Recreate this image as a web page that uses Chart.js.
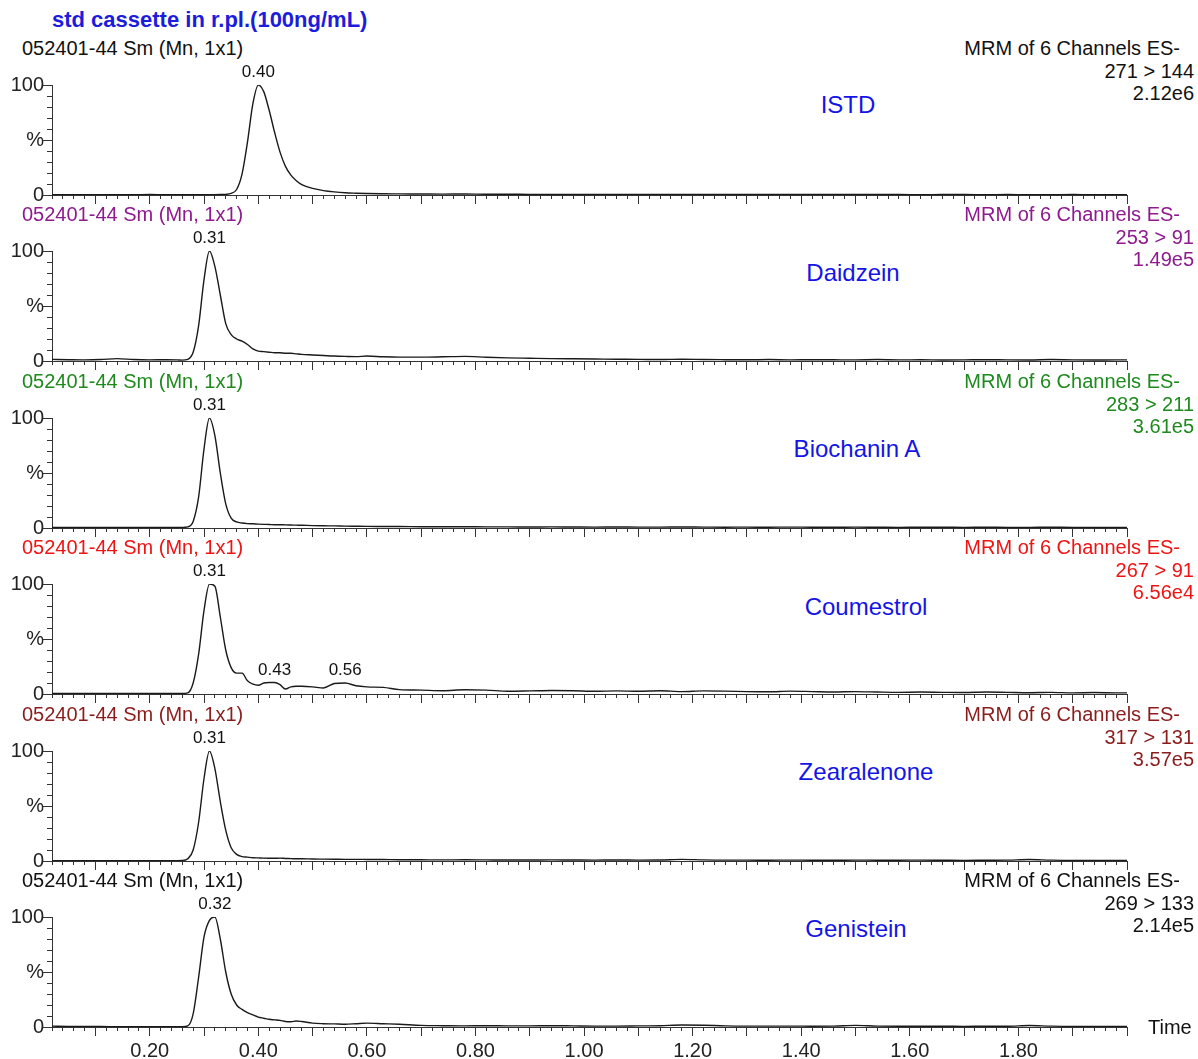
<!DOCTYPE html>
<html lang="en">
<head>
  <meta charset="UTF-8" />
  <title>std cassette in r.pl.(100ng/mL)</title>
  <script src="https://cdn.jsdelivr.net/npm/chart.js"></script>
  <style>
    body {
      margin: 0;
      background: #fff;
      font-family: Arial, "Liberation Sans", sans-serif;
      overflow: hidden;
    }
    #page {
      position: relative;
      width: 1198px;
      height: 1059px;
    }
    .txt {
      position: absolute;
      white-space: nowrap;
      line-height: 1;
    }
  </style>
</head>
<body>
  <div id="page"></div>

  <script>
    // retention time grid (min), denser around the peaks
    const TIME = [0.02, 0.05, 0.08, 0.11, 0.14, 0.17, 0.20, 0.23, 0.25,
      0.26, 0.27, 0.28, 0.29, 0.30, 0.31, 0.32, 0.33, 0.34, 0.35,
      0.36, 0.37, 0.38, 0.39, 0.40, 0.41, 0.42, 0.43, 0.44, 0.45, 0.46, 0.47, 0.48,
      0.50, 0.52, 0.54, 0.56, 0.58, 0.60, 0.63, 0.66,
      0.70, 0.74, 0.78, 0.82, 0.86, 0.90, 0.94, 0.98, 1.02, 1.06, 1.10, 1.14, 1.18, 1.22,
      1.26, 1.30, 1.34, 1.38, 1.42, 1.46, 1.50, 1.54, 1.58, 1.62, 1.66, 1.70, 1.74, 1.78,
      1.82, 1.86, 1.90, 1.94, 1.98, 2.00];

    // relative intensity (%) per channel
    const ISTD = [0.3, 0.3, 0.3, 0.3, 0.3, 0.3, 0.4, 0.3, 0.3,
      0.3, 0.3, 0.3, 0.3, 0.3, 0.3, 0.3, 0.4, 0.6, 1.5,
      5, 19, 48, 83, 100, 94, 77, 57, 39, 26, 18, 13, 9.5,
      6, 4, 2.8, 2.0, 1.6, 1.3, 1.1, 1.0,
      0.9, 0.8, 0.9, 0.7, 0.7, 0.6, 0.6, 0.5, 0.6, 0.5, 0.5, 0.4, 0.5, 0.5, 0.4, 0.4, 0.5,
      0.4, 0.4, 0.4, 0.5, 0.4, 0.4, 0.3, 0.4, 0.4, 0.3, 0.4, 0.3, 0.3, 0.4, 0.3, 0.3, 0.3];
    const DAIDZEIN = [1.5, 1.2, 1.0, 1.3, 2.2, 1.3, 1.0, 1.2, 1.0,
      0.8, 1.5, 8, 32, 74, 100, 86, 60, 34, 24,
      20, 18, 15, 11, 9, 8.5, 8, 7.5, 7.5, 7, 7, 6.5, 6,
      5.5, 5, 4.5, 4.2, 4, 4.5, 3.8, 3.5,
      3.5, 3.8, 4.2, 3.4, 2.8, 2.5, 2.2, 2.0, 1.8, 1.6, 1.5, 1.3, 1.6, 1.3, 1.2, 1.1, 1.3,
      1.0, 1.2, 1.1, 1.0, 1.3, 1.0, 1.1, 0.9, 1.0, 1.2, 1.0, 0.9, 1.3, 1.0, 0.9, 1.0, 1.0];
    const BIOCHANIN_A = [0.5, 0.5, 0.4, 0.5, 0.5, 0.4, 0.5, 0.5, 0.4,
      0.5, 1, 6, 28, 72, 100, 84, 50, 22, 9,
      5.5, 4.5, 4, 3.8, 3.5, 3.3, 3.2, 3, 3, 2.8, 2.7, 2.6, 2.5,
      2.2, 2, 1.9, 1.7, 1.6, 1.5, 1.4, 1.3,
      1.2, 1.1, 1.2, 1.0, 1.0, 0.9, 1.0, 0.9, 0.8, 0.9, 0.8, 0.8, 0.9, 0.8, 0.7, 0.8, 0.7,
      0.8, 0.7, 0.7, 0.8, 0.7, 0.6, 0.7, 0.7, 0.6, 0.7, 0.6, 0.6, 0.7, 0.6, 0.6, 0.6, 0.6];
    const COUMESTROL = [0.6, 0.5, 0.5, 0.6, 0.5, 0.5, 0.6, 0.5, 0.5,
      0.5, 1, 10, 36, 76, 100, 98, 70, 40, 24,
      19, 19, 12, 9, 8, 10, 10.5, 10.5, 8.5, 4.5, 6.5, 7, 7,
      6.5, 5.5, 9.5, 10, 7.5, 6.5, 6, 4,
      3.5, 3, 3.8, 3.5, 2.5, 2.8, 3.2, 3, 2.5, 2.8, 2.5, 3, 2.2, 2.8, 2.6, 2.2, 2,
      2.6, 2.2, 1.8, 2.2, 1.8, 1.5, 1.8, 1.5, 1.3, 1.8, 1.5, 1.2, 1.5, 1.0, 1.3, 1.0, 1.0];
    const ZEARALENONE = [0.3, 0.3, 0.3, 0.3, 0.3, 0.3, 0.3, 0.3, 0.3,
      0.4, 2, 10, 35, 75, 100, 84, 54, 28, 12,
      6, 4, 3.5, 3, 2.8, 2.6, 2.5, 2.5, 2.6, 2.3, 2.2, 2, 2,
      1.8, 1.7, 1.6, 1.5, 1.5, 1.4, 1.3, 1.2,
      1.1, 1.0, 1.1, 1.0, 0.9, 0.9, 1.0, 0.9, 0.8, 0.9, 0.8, 0.9, 1.5, 1.0, 0.8, 0.8, 0.7,
      0.8, 0.7, 0.7, 0.8, 0.7, 0.7, 0.8, 0.7, 0.6, 0.7, 0.8, 1.3, 0.8, 0.6, 0.6, 0.6, 0.6];
    const GENISTEIN = [0.8, 0.5, 0.4, 0.4, 0.3, 0.3, 0.3, 0.3, 0.3,
      0.3, 1, 12, 45, 82, 97, 100, 80, 50, 30,
      20, 16, 13, 11, 9, 8, 7, 6.5, 6, 5, 4.8, 5.5, 5,
      3.5, 3, 2.8, 2.5, 3, 3.5, 3, 2.5,
      1.5, 1.2, 1.0, 1.2, 1.0, 1.0, 1.2, 1.0, 0.8, 0.8, 1.0, 1.2, 1.8, 1.6, 1.0, 0.8, 0.8,
      0.8, 0.7, 0.8, 1.5, 0.8, 0.7, 0.7, 0.7, 0.6, 0.7, 0.7, 1.3, 0.8, 0.6, 0.6, 0.6, 0.6];

    const SERIES = [ISTD, DAIDZEIN, BIOCHANIN_A, COUMESTROL, ZEARALENONE, GENISTEIN];
    const COMPOUNDS = ["ISTD", "Daidzein", "Biochanin A", "Coumestrol", "Zearalenone", "Genistein"];
    const TRANSITIONS = ["271 > 144", "253 > 91", "283 > 211", "267 > 91", "317 > 131", "269 > 133"];
    const INTENSITIES = ["2.12e6", "1.49e5", "3.61e5", "6.56e4", "3.57e5", "2.14e5"];
    const PEAK_TIMES = [[0.40], [0.31], [0.31], [0.31, 0.43, 0.56], [0.31], [0.32]];
    const X_LABELS = [0.20, 0.40, 0.60, 0.80, 1.00, 1.20, 1.40, 1.60, 1.80];
    const Y_TICKS = [0, 10, 20, 30, 40, 50, 60, 70, 80, 90, 100];

    // styling / layout
    const HEADER_COLORS = ["#111111", "#8e1a8e", "#1e8a1e", "#ee1414", "#8b1c1c", "#111111"];
    const NAME_POS = [[848, 105], [853, 273], [857, 449], [866, 607], [866, 772], [856, 929]];
    const FONT = 'Arial, "Liberation Sans", sans-serif';
    const W = 1198, LEFT = 52, RIGHT = 1127;
    const FIRST_TOP = 84.5, STEP = 166.5, PLOT_H = 110, PAD_TOP = 40;

    const page = document.getElementById("page");

    function addText(text, x, y, o = {}) {
      const d = document.createElement("div");
      d.className = "txt";
      d.textContent = text;
      const tx = o.align === "right" ? "-100%" : o.align === "center" ? "-50%" : "0";
      d.style.left = x + "px";
      d.style.top = y + "px";
      d.style.transform = `translate(${tx}, -50%)`;
      d.style.color = o.color || "#111";
      d.style.fontSize = (o.size || 20) + "px";
      if (o.bold) d.style.fontWeight = "bold";
      page.appendChild(d);
    }

    // minor x ticks every 0.02 min
    const X_MINOR = Array.from({ length: 100 }, (_, i) => +((i + 1) * 0.02).toFixed(2));

    const peakLabels = {
      id: "peakLabels",
      afterDatasetsDraw(chart, args, opts) {
        const { ctx, scales: { x, y } } = chart;
        const data = chart.data.datasets[0].data;
        ctx.save();
        ctx.font = "17px " + FONT;
        ctx.fillStyle = "#111";
        ctx.textAlign = "center";
        ctx.textBaseline = "bottom";
        opts.peaks.forEach(t => {
          const p = data.find(d => Math.abs(d.x - t) < 1e-6);
          ctx.fillText(t.toFixed(2), x.getPixelForValue(t), y.getPixelForValue(p.y) - 4);
        });
        ctx.restore();
      },
      afterDraw(chart) {
        // longer marks for the major ticks
        const { ctx, chartArea, scales: { x, y } } = chart;
        const al = p => Math.round(p - 0.5) + 0.5;
        ctx.save();
        ctx.strokeStyle = "#333";
        ctx.lineWidth = 1;
        ctx.beginPath();
        for (let i = 1; i <= 20; i++) {
          const px = al(x.getPixelForValue(i / 10));
          ctx.moveTo(px, chartArea.bottom);
          ctx.lineTo(px, chartArea.bottom + 9);
        }
        [0, 50, 100].forEach(v => {
          const py = al(y.getPixelForValue(v));
          ctx.moveTo(chartArea.left - 9, py);
          ctx.lineTo(chartArea.left, py);
        });
        ctx.stroke();
        ctx.restore();
      }
    };

    addText("std cassette in r.pl.(100ng/mL)", 52, 20, { color: "#1c1cdc", size: 22, bold: true });

    SERIES.forEach((vals, k) => {
      const top = FIRST_TOP + STEP * k;
      const last = k === SERIES.length - 1;
      const cTop = Math.round(top - PAD_TOP);
      const h = last ? 1059 - cTop : 166;
      const color = HEADER_COLORS[k];

      addText("052401-44 Sm (Mn, 1x1)", 22, top - 37, { color });
      addText("MRM of 6 Channels ES-", 1180, top - 37, { color, align: "right" });
      addText(TRANSITIONS[k], 1194, top - 14, { color, align: "right" });
      addText(INTENSITIES[k], 1194, top + 8, { color, align: "right" });
      addText(COMPOUNDS[k], NAME_POS[k][0], NAME_POS[k][1], { color: "#1414e6", size: 24, align: "center" });

      const cv = document.createElement("canvas");
      cv.width = W;
      cv.height = h;
      cv.style.cssText = `position:absolute;left:0;top:${cTop}px`;
      page.appendChild(cv);

      new Chart(cv, {
        type: "line",
        data: {
          datasets: [{
            data: TIME.map((t, i) => ({ x: t, y: vals[i] })),
            borderColor: "#1a1a1a",
            borderWidth: 1.4,
            pointRadius: 0,
            cubicInterpolationMode: "monotone",
            fill: false
          }]
        },
        options: {
          responsive: false,
          animation: false,
          events: [],
          layout: { padding: { top: PAD_TOP, right: W - RIGHT, left: 0, bottom: 0 } },
          plugins: {
            legend: { display: false },
            tooltip: { enabled: false },
            peakLabels: { peaks: PEAK_TIMES[k] }
          },
          scales: {
            x: {
              type: "linear",
              min: 0.02,
              max: 2.0,
              afterBuildTicks: s => { s.ticks = X_MINOR.map(v => ({ value: v })); },
              afterFit: s => { s.height = h - PAD_TOP - PLOT_H; },
              ticks: {
                autoSkip: false,
                maxRotation: 0,
                padding: 8,
                color: "#222",
                font: { size: 20, family: FONT },
                callback: v => (last && X_LABELS.some(l => Math.abs(l - v) < 1e-6)) ? v.toFixed(2) : ""
              },
              grid: { drawOnChartArea: false, tickLength: 4, color: "#333" },
              border: { color: "#333", width: 1 }
            },
            y: {
              min: 0,
              max: 100,
              afterBuildTicks: s => { s.ticks = Y_TICKS.map(v => ({ value: v })); },
              afterFit: s => { s.width = LEFT; },
              ticks: {
                autoSkip: false,
                padding: 3,
                color: "#222",
                font: { size: 20, family: FONT },
                callback: v => v === 100 ? "100" : v === 50 ? "%" : v === 0 ? "0" : ""
              },
              grid: { drawOnChartArea: false, tickLength: 5, color: "#333" },
              border: { color: "#333", width: 1 }
            }
          }
        },
        plugins: [peakLabels]
      });
    });

    addText("Time", 1148, 1027, { size: 20 });
  </script>
</body>
</html>
